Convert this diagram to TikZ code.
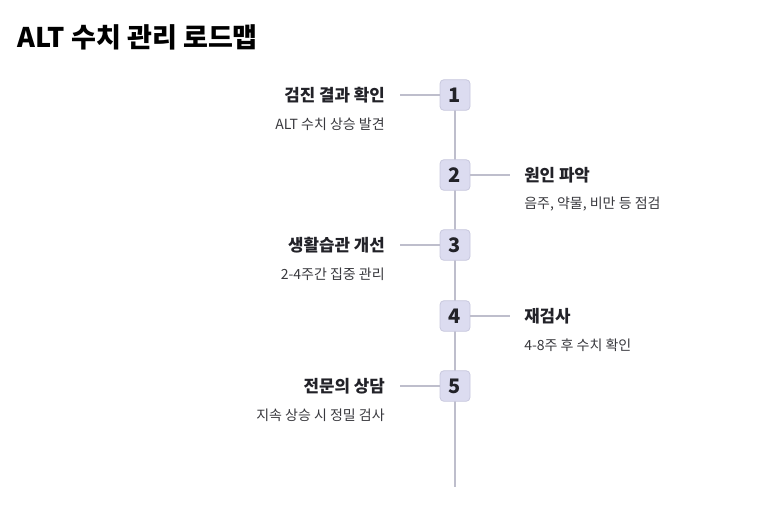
\documentclass[tikz,border=0pt]{standalone}
\usepackage{fontspec}
\setmainfont{Noto Sans CJK KR}
\usepackage{tikz}
\usetikzlibrary{positioning}
\definecolor{linegray}{RGB}{190,190,204}
\definecolor{boxfill}{RGB}{220,220,240}
\definecolor{boxline}{RGB}{200,200,222}
\definecolor{inkdark}{RGB}{34,34,40}

\begin{document}
\begin{tikzpicture}[
    x=0.75pt, y=-0.75pt,
    stepbox/.style={rectangle, rounded corners=3pt, draw=boxline, fill=boxfill, line width=0.6pt,
      minimum width=22.5pt, minimum height=23pt, inner sep=0, font=\fontsize{15}{16}\selectfont\bfseries, text=inkdark},
    steptitle/.style={inner sep=0, font=\fontsize{12.6}{14}\selectfont\bfseries, text=inkdark},
    stepsub/.style={inner sep=0, font=\fontsize{10.5}{12}\selectfont, text=inkdark!90},
    link/.style={draw=linegray, line width=1pt}
]
  \useasboundingbox (0,0) rectangle (762,507);

  % Title
  \node[anchor=west, inner sep=0, font=\fontsize{20.3}{22}\selectfont\bfseries, text=black] (head) at (17,37) {ALT 수치 관리 로드맵};

  % Timeline
  \coordinate (top) at (455,95);
  \coordinate (bottom) at (455,487);
  \draw[link] (top) -- (bottom);

  % Steps on the left
  \foreach \i/\y/\t/\s in {1/95/{검진 결과 확인}/{ALT 수치 상승 발견},
                            3/245/{생활습관 개선}/{2-4주간 집중 관리},
                            5/386/{전문의 상담}/{지속 상승 시 정밀 검사}}{
    \coordinate (C\i) at (400,\y);
    \node[stepbox] (S\i) at (455,\y) {\i};
    \draw[link] (C\i) -- (S\i.west);
    \node[steptitle, anchor=east] (T\i) at (385,\y) {\t};
    \node[stepsub, anchor=east] (D\i) at (385,\y+29.5) {\s};
  }

  % Steps on the right
  \foreach \i/\y/\t/\s in {2/175/{원인 파악}/{음주, 약물, 비만 등 점검},
                            4/316/{재검사}/{4-8주 후 수치 확인}}{
    \coordinate (C\i) at (510,\y);
    \node[stepbox] (S\i) at (455,\y) {\i};
    \draw[link] (S\i.east) -- (C\i);
    \node[steptitle, anchor=west] (T\i) at (524,\y) {\t};
    \node[stepsub, anchor=west] (D\i) at (524,\y+29.5) {\s};
  }
\end{tikzpicture}
\end{document}
